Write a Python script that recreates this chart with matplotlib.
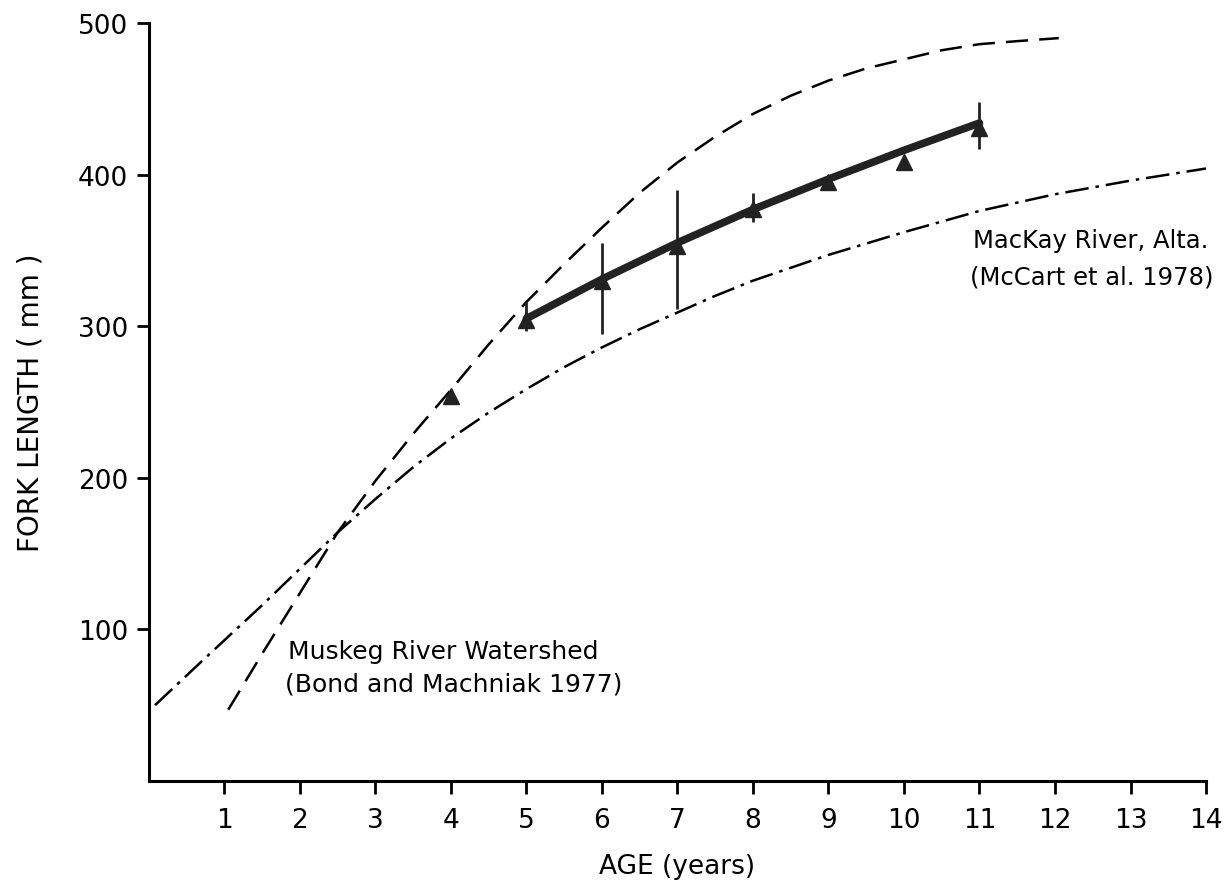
import numpy as np
import matplotlib
matplotlib.use('Agg')
import matplotlib.pyplot as plt

plt.rcParams['font.family'] = ['DejaVu Sans']
plt.rcParams['lines.scale_dashes'] = False

# Muskeg River Watershed (Bond and Machniak 1977) - dashed
muskeg_age = [1.05, 1.5, 2, 2.5, 3, 3.5, 4, 4.5, 5, 5.5, 6, 6.5, 7, 7.5, 8, 8.5, 9, 9.5, 10, 10.5, 11, 11.5, 12.05]
muskeg_len = [47, 84, 124, 164, 198, 229, 258, 288, 316, 341, 365, 388, 408, 425, 440, 452, 462, 470, 476, 482, 486, 488, 490]

# MacKay River, Alta. (McCart et al. 1978) - dash-dot
mackay_age = [0.08, 0.7, 1.5, 2, 2.5, 3, 3.5, 4, 4.5, 5, 5.5, 6, 6.5, 7, 7.5, 8, 9, 10, 11, 12, 13, 14]
mackay_len = [50, 79, 116, 140, 164, 186, 207, 226, 243, 258.5, 273, 286, 298, 309, 320, 330, 347, 362, 376, 387, 396, 404]

# observed mean lengths (triangles)
obs_age = [4, 5, 6, 7, 8, 9, 10, 11]
obs_len = [254, 304, 330, 353, 377, 395, 408, 431]

# ranges (vertical bars)
bar_age = [5, 6, 7, 8, 11]
bar_low = [297, 295, 311, 369, 417]
bar_high = [316, 355, 390, 388, 448]

# fitted growth line (thick solid)
fit_age = [5, 6, 7, 8, 9, 10, 11]
fit_len = [305, 331, 355, 377, 397, 416, 434]

xticks = list(range(1, 15))
yticks = [100, 200, 300, 400, 500]

fig = plt.figure(figsize=(12.24, 8.87), dpi=100)
ax = fig.add_axes([0.1217, 0.1184, 0.8636, 0.8546])

ax.plot(muskeg_age, muskeg_len, color='black', lw=1.8, dashes=(16, 8))
ax.plot(mackay_age, mackay_len, color='black', lw=1.8, dashes=(17, 5, 2.5, 5))
ax.plot(fit_age, fit_len, color='#222222', lw=5.5, solid_capstyle='round')
ax.vlines(bar_age, bar_low, bar_high, color='#222222', lw=2)
ax.plot(obs_age, obs_len, linestyle='none', marker='^', ms=12, color='#222222')

ax.text(1.84, 86, 'Muskeg River Watershed', fontsize=18, va='center', ha='left')
ax.text(1.80, 64, '(Bond and Machniak 1977)', fontsize=18, va='center', ha='left')
ax.text(10.92, 357, 'MacKay River, Alta.', fontsize=17.5, va='center', ha='left')
ax.text(10.87, 333, '(McCart et al. 1978)', fontsize=17.5, va='center', ha='left')

ax.set_xlim(0, 14)
ax.set_ylim(0, 500)
ax.set_xticks(xticks)
ax.set_yticks(yticks)
ax.tick_params(direction='out', length=9, width=2, labelsize=19)
ax.tick_params(axis='x', pad=10)
ax.tick_params(axis='y', pad=6)
ax.spines['top'].set_visible(False)
ax.spines['right'].set_visible(False)
ax.spines['left'].set_linewidth(2.2)
ax.spines['bottom'].set_linewidth(2.2)

ax.set_xlabel('AGE (years)', fontsize=19, labelpad=14)
ax.set_ylabel('FORK LENGTH ( mm )', fontsize=20, labelpad=24)

fig.savefig('out.png', dpi=100)
